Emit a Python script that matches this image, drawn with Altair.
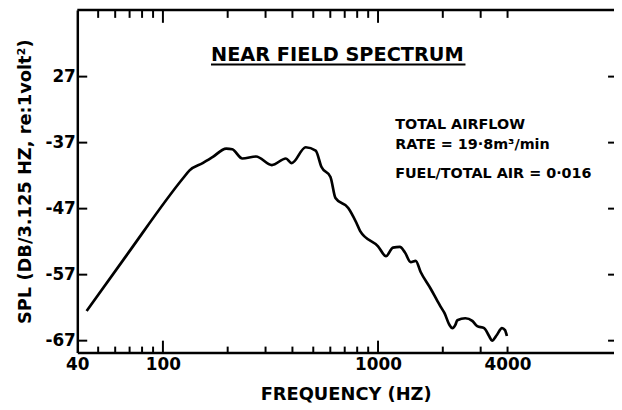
import altair as alt
import pandas as pd

# Spectrum trace (frequency in Hz, SPL in dB)
freq = [44.2, 68, 124, 133, 153, 170, 197, 210, 234, 271, 321, 373, 397, 461,
        513, 546, 601, 634, 727, 792, 826, 1000, 1089, 1173, 1263, 1332, 1419,
        1496, 1578, 1754, 1889, 1950, 2035, 2147, 2217, 2288, 2337, 2546, 2742,
        2891, 3113, 3282, 3388, 3573, 3767, 3891, 3972]
spl = [-62.5, -54.0, -42.4, -41.2, -40.1, -39.2, -37.9, -38.0, -39.4, -39.1,
       -40.4, -39.4, -40.1, -37.7, -38.2, -40.7, -42.2, -45.4, -46.9, -49.1,
       -50.4, -52.7, -54.2, -52.9, -52.8, -53.6, -55.1, -54.9, -56.6, -59.1,
       -61.0, -61.8, -62.8, -64.6, -65.1, -64.6, -63.9, -63.6, -64.0, -64.8,
       -65.1, -66.3, -67.0, -66.1, -65.1, -65.4, -66.3]

x_labels = [40, 100, 1000, 4000]
x_minor_ticks = [50, 60, 70, 80, 90, 200, 300, 400, 500, 600, 700, 800, 900,
                 2000, 3000, 4000]
x_major_ticks = [100, 1000]
y_ticks = [-27, -37, -47, -57, -67]

title_text = "NEAR FIELD SPECTRUM"
note_lines = ["TOTAL AIRFLOW", "RATE = 19·8m³/min", "FUEL/TOTAL AIR = 0·016"]
note_y = [120, 140, 170]

W, H = 542, 346
FONT = "DejaVu Sans"

xscale = alt.Scale(type="log", domain=[40, 12500], nice=False)
yscale = alt.Scale(domain=[-68.8, -16.9], nice=False, zero=False)

x_axis = alt.Axis(values=x_labels, labelExpr="'' + datum.value", ticks=False,
                  grid=False, domain=True, domainColor="black", domainWidth=2.5,
                  labelFont=FONT, labelFontWeight="bold", labelFontSize=17,
                  labelColor="black", labelPadding=4, labelFlush=False,
                  title="FREQUENCY (HZ)", titleFont=FONT, titleFontWeight="bold",
                  titleFontSize=18, titleColor="black", titlePadding=13)
y_axis = alt.Axis(values=y_ticks,
                  labelExpr="datum.value == -27 ? '27' : '' + datum.value",
                  ticks=False, grid=False, domain=True,
                  domainColor="black", domainWidth=2.5,
                  labelFont=FONT, labelFontWeight="bold", labelFontSize=17,
                  labelColor="black", labelPadding=2,
                  title="SPL (DB/3.125 HZ, re:1volt²)", titleFont=FONT,
                  titleFontWeight="bold", titleFontSize=18, titleColor="black",
                  titlePadding=11)

df = pd.DataFrame({"f": freq, "spl": spl})

line = alt.Chart(df).mark_line(color="black", strokeWidth=2.7, interpolate="monotone").encode(
    x=alt.X("f:Q", scale=xscale, axis=x_axis),
    y=alt.Y("spl:Q", scale=yscale, axis=y_axis),
)

def xtick_layer(values, y0, y1):
    return alt.Chart(pd.DataFrame({"f": values})).mark_rule(color="black", strokeWidth=2).encode(
        x=alt.X("f:Q", scale=xscale, axis=x_axis),
        y=alt.value(y0), y2=alt.value(y1))

def ytick_layer(x0, x1):
    return alt.Chart(pd.DataFrame({"spl": y_ticks})).mark_rule(color="black", strokeWidth=2).encode(
        y=alt.Y("spl:Q", scale=yscale, axis=y_axis),
        x=alt.value(x0), x2=alt.value(x1))

ticks = [
    xtick_layer(x_minor_ticks, H, H - 6),
    xtick_layer(x_major_ticks, H, H - 12),
    xtick_layer(x_minor_ticks, 0, 8),
    xtick_layer(x_major_ticks, 0, 13),
    ytick_layer(0, 10),
    ytick_layer(W - 6, W),
]

top_frame = alt.Chart(pd.DataFrame({"a": [0]})).mark_rule(color="black", strokeWidth=2.5).encode(
    x=alt.value(0), x2=alt.value(W), y=alt.value(0))

title = alt.Chart(pd.DataFrame({"t": [title_text]})).mark_text(
    font=FONT, fontWeight="bold", fontSize=19.5, align="left", baseline="alphabetic",
    color="black").encode(text="t:N", x=alt.value(135), y=alt.value(52))
underline = alt.Chart(pd.DataFrame({"a": [0]})).mark_rule(color="black", strokeWidth=2).encode(
    x=alt.value(135), x2=alt.value(392), y=alt.value(55))

note_layers = [
    alt.Chart(pd.DataFrame({"t": [txt]})).mark_text(
        font=FONT, fontWeight="bold", fontSize=14.5, align="left", baseline="alphabetic",
        color="black").encode(text="t:N", x=alt.value(321), y=alt.value(yy))
    for txt, yy in zip(note_lines, note_y)
]

chart = alt.layer(line, *ticks, top_frame, title, underline, *note_layers).properties(
    width=W, height=H,
    background="white",
    autosize=alt.AutoSizeParams(type="none"),
    padding={"left": 70, "top": 0, "right": 0, "bottom": 50},
).configure_view(stroke=None)

chart.save("out.html", embed_options={"renderer": "svg", "actions": False})
